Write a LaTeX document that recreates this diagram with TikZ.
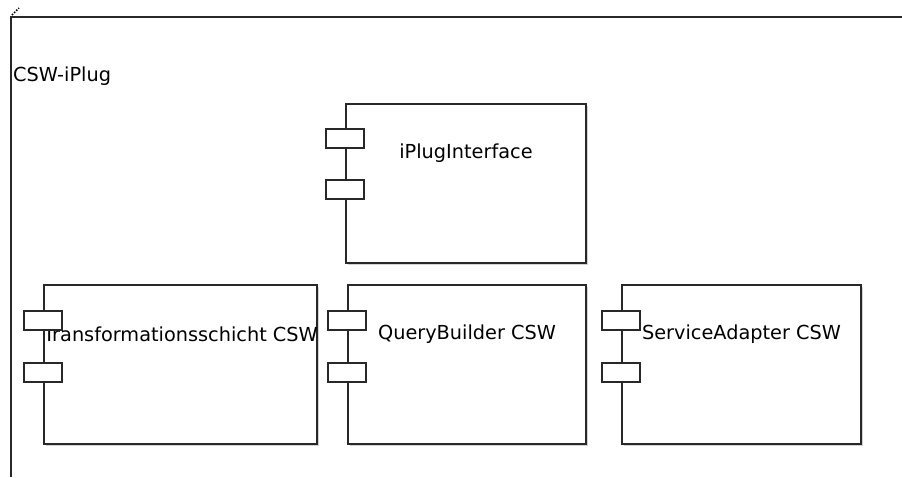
\documentclass[tikz,border=0pt]{standalone}
\usepackage{fontspec}
\setmainfont{DejaVu Sans}
\usetikzlibrary{positioning, shadows, calc}
\definecolor{FrameGray}{RGB}{40, 40, 40}

\tikzset{
  comp/.style={draw=FrameGray, line width=2pt, fill=white, minimum width=240, minimum height=159,
    inner sep=0pt, drop shadow={shadow xshift=1.5pt, shadow yshift=-1.5pt, opacity=0.35}},
  comptext/.style={font=\fontsize{19.3}{19.3}\selectfont, inner sep=0pt, anchor=center},
  port/.style={draw=FrameGray, line width=2pt, fill=white, minimum width=38, minimum height=19,
    inner sep=0pt, drop shadow={shadow xshift=1pt, shadow yshift=-1pt, opacity=0.35}}
}

\begin{document}
\begin{tikzpicture}[x=1pt, y=-1pt]
    \useasboundingbox (0,0) rectangle (902,477);

    % Package frame
    \coordinate (corner) at (11,17);
    \draw[line width=2pt, FrameGray] (902,17) -- (corner) -- (11,477);
    \draw[dash pattern=on 1.5pt off 1.5pt, line width=1.5pt] (corner) ++(1,-2) -- (19,8);
    \node[comptext, anchor=west] (pkg) at (13,76) {CSW-iPlug};

    % iPlugInterface
    \node[comp, anchor=north west] (iplug) at (345,103) {};
    \node[comptext, below=50pt of iplug.north, anchor=center] (iplugtext) {iPlugInterface};
    \node[port, below=35pt of iplug.north west, anchor=center] (iplugA) {};
    \node[port, below=86pt of iplug.north west, anchor=center] (iplugB) {};

    % Transformationsschicht CSW
    \node[comp, anchor=north west, minimum width=273] (trans) at (43,284) {};
    \node[comptext, below=50pt of trans.north, anchor=center] (transtext) {Transformationsschicht CSW};
    \node[port, below=36pt of trans.north west, anchor=center] (transA) {};
    \node[port, below=88pt of trans.north west, anchor=center] (transB) {};

    % QueryBuilder CSW
    \node[comp, anchor=north west, minimum width=238] (query) at (347,284) {};
    \node[comptext, below=50pt of query.north, anchor=center] (querytext) {QueryBuilder CSW};
    \node[port, below=36pt of query.north west, anchor=center] (queryA) {};
    \node[port, below=88pt of query.north west, anchor=center] (queryB) {};

    % ServiceAdapter CSW
    \node[comp, anchor=north west, minimum width=239] (service) at (621,284) {};
    \node[comptext, below=50pt of service.north, anchor=center] (servicetext) {ServiceAdapter CSW};
    \node[port, below=36pt of service.north west, anchor=center] (serviceA) {};
    \node[port, below=88pt of service.north west, anchor=center] (serviceB) {};
\end{tikzpicture}
\end{document}
